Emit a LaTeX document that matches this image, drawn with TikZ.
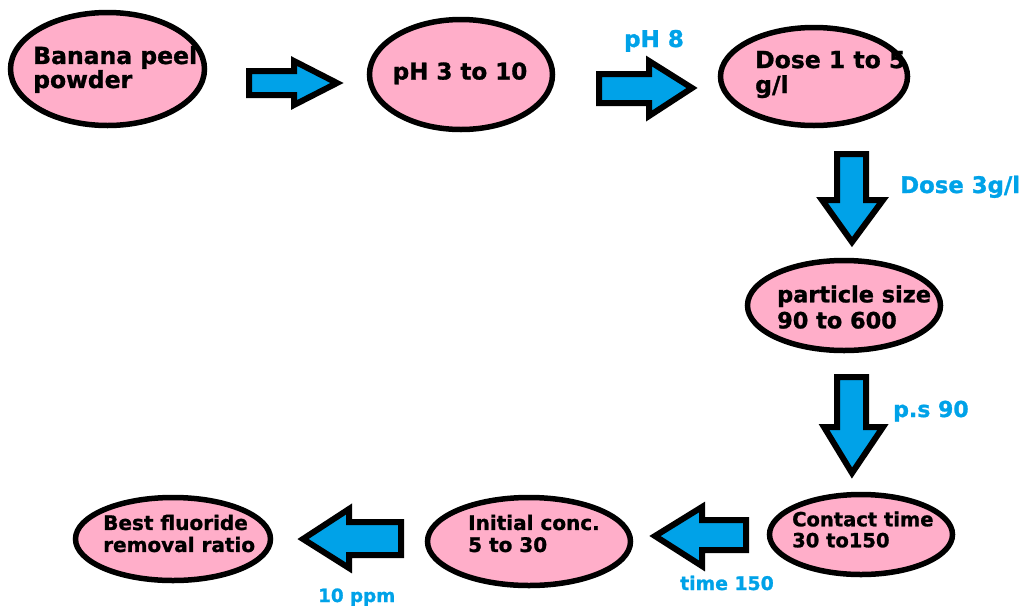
\documentclass[tikz,border=0pt]{standalone}
\usepackage{fontspec}
\setmainfont{DejaVu Sans}[BoldFeatures={FakeBold=1.2}]
\usepackage{tikz}
\usetikzlibrary{shapes.geometric}
\definecolor{peelpink}{RGB}{255,174,201}
\definecolor{flowblue}{RGB}{0,162,232}
\newcommand{\sz}[2]{\bfseries\fontsize{#1}{#2}\selectfont}

\begin{document}
\begin{tikzpicture}[x=1pt,y=-1pt]
\tikzstyle{stage}=[draw,shape=ellipse,line width=5.5pt,fill=peelpink,inner sep=0pt];
\tikzstyle{stagetext}=[align=left,inner sep=0pt,anchor=west];
\tikzstyle{flow}=[draw,line width=6pt,fill=flowblue,line join=miter];
\tikzstyle{cond}=[text=flowblue,inner sep=0pt];
\useasboundingbox (0,0) rectangle (1025,606);

% stages
\node[stage,minimum width=194,minimum height=113] (powder) at (107.5,69) {};
\node[stage,minimum width=183,minimum height=110] (ph) at (461,74.5) {};
\node[stage,minimum width=187,minimum height=98] (dose) at (814,76.5) {};
\node[stage,minimum width=193,minimum height=90] (size) at (844,305.5) {};
\node[stage,minimum width=183,minimum height=80] (contact) at (861,534.5) {};
\node[stage,minimum width=203,minimum height=88] (initial) at (529,541.5) {};
\node[stage,minimum width=195,minimum height=83] (best) at (173,539) {};

% stage texts
\node[stagetext,font=\sz{23.5}{24}] (powdertext) at (33,69.5) {Banana peel\\powder};
\node[inner sep=0pt,anchor=base,font=\sz{23}{24}] (phtext) at (460,79.5) {pH 3 to 10};
\node[stagetext,font=\sz{23.5}{25}] (dosetext) at (755,74.5) {Dose 1 to 5\\g/l};
\node[stagetext,font=\sz{22.4}{26}] (sizetext) at (777,307) {particle size\\90 to 600};
\node[stagetext,font=\sz{19.5}{21}] (contacttext) at (792,529.5) {Contact time\\30 to150};
\node[stagetext,font=\sz{20}{22}] (initialtext) at (468,533.5) {Initial conc.\\5 to 30};
\node[stagetext,font=\sz{20}{22}] (besttext) at (103,533.5) {Best fluoride\\removal ratio};

% block arrows
\draw[flow] (249,71) -- (294,71) -- (294,61) -- (337,83) -- (294,105) -- (294,95) -- (249,95) -- cycle;
\draw[flow] (599,74) -- (649,74) -- (649,61) -- (692,88) -- (649,116) -- (649,103) -- (599,103) -- cycle;
\draw[flow] (837,154) -- (866,154) -- (866,200) -- (883,200) -- (852,242) -- (822,200) -- (837,200) -- cycle;
\draw[flow] (837,377) -- (866,377) -- (866,427) -- (883,427) -- (852,473) -- (824,427) -- (837,427) -- cycle;
\draw[flow] (746,520) -- (702,520) -- (702,507) -- (655,536) -- (702,566) -- (702,550) -- (746,550) -- cycle;
\draw[flow] (401,522) -- (349,522) -- (349,509) -- (303,539) -- (349,568) -- (349,555) -- (401,555) -- cycle;

% conditions
\node[cond,anchor=base,font=\sz{23}{24}] (ph8) at (654,47) {pH 8};
\node[cond,anchor=base west,font=\sz{22.8}{24}] (dose3) at (900,193) {Dose 3g/l};
\node[cond,anchor=base west,font=\sz{22}{24}] (ps90) at (893,417) {p.s 90};
\node[cond,anchor=base west,font=\sz{18.8}{20}] (time150) at (680,590) {time 150};
\node[cond,anchor=base west,font=\sz{18.3}{20}] (ppm10) at (318,602) {10 ppm};
\end{tikzpicture}
\end{document}
